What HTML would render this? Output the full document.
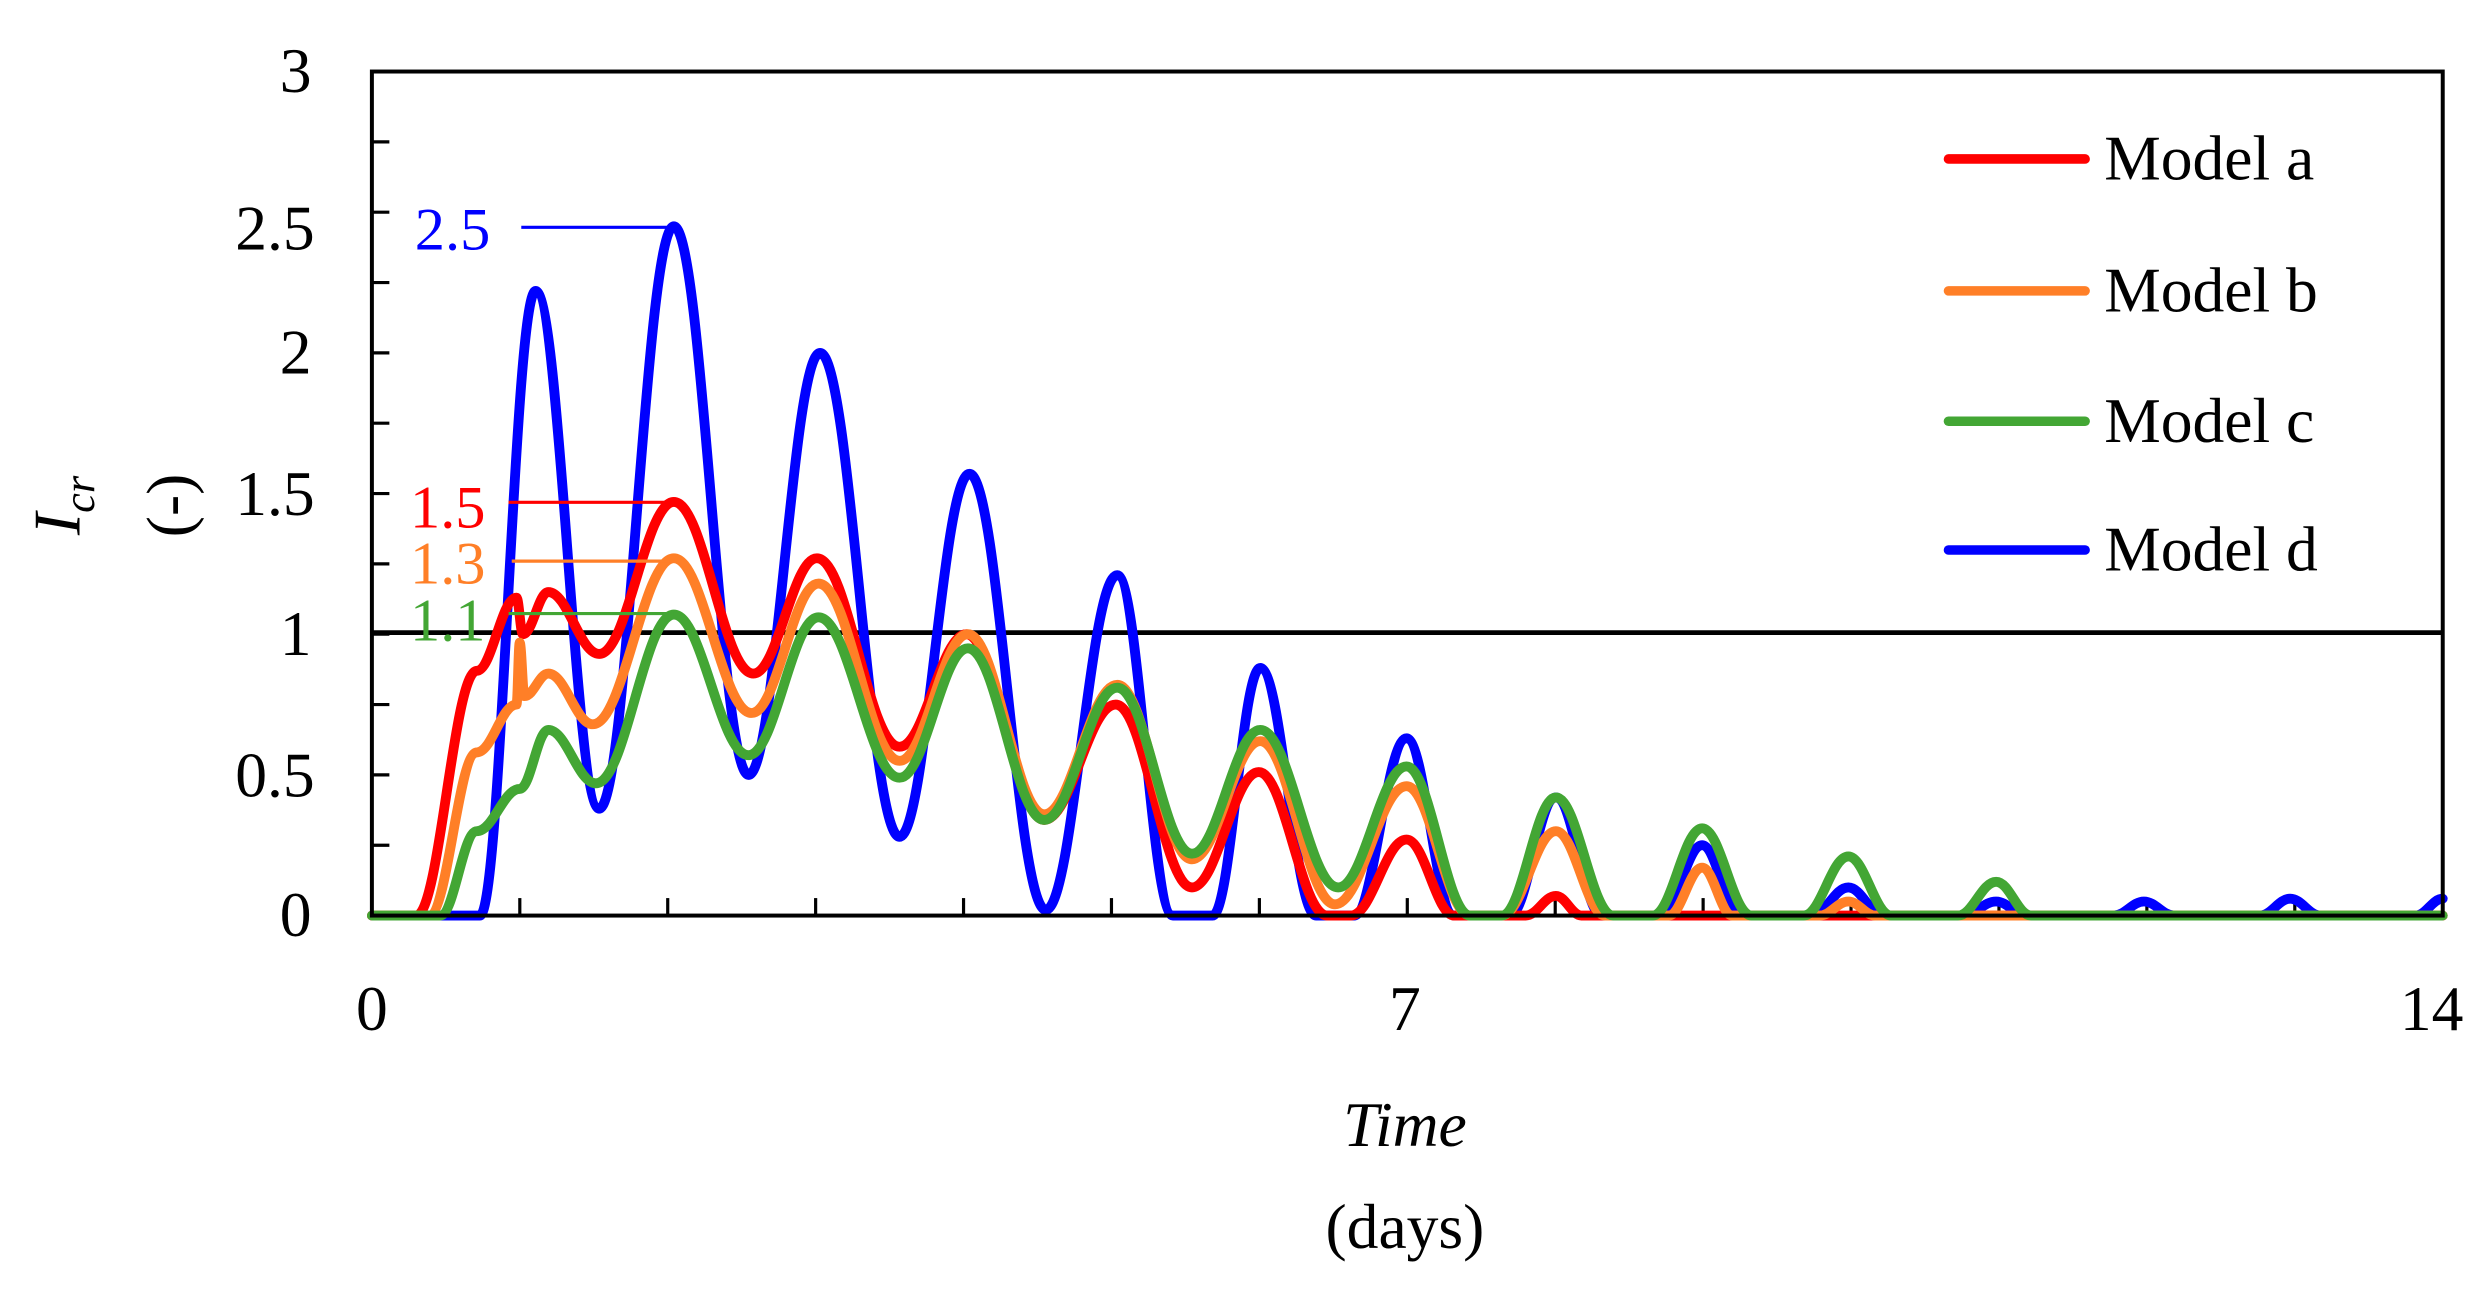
<!DOCTYPE html>
<html><head><meta charset="utf-8"><style>
html,body{margin:0;padding:0;background:#fff;}
svg{display:block;}
text{font-family:"Liberation Serif",serif;}
</style></head><body>
<svg id="s" width="2492" height="1305" viewBox="0 0 1568 821" preserveAspectRatio="none" xmlns="http://www.w3.org/2000/svg">
<rect x="0" y="0" width="1568" height="821" fill="#fff"/>
<g id="ticks" stroke="#000" stroke-width="2"></g>
<line x1="234" y1="398" x2="1537" y2="398" stroke="#000" stroke-width="3"/>
<g id="curves" fill="none" stroke-width="6.2" stroke-linejoin="round" stroke-linecap="round"></g>
<rect x="234" y="45" width="1303" height="531" fill="none" stroke="#000" stroke-width="2.5"/>
<line x1="328" y1="143" x2="424" y2="143" stroke="#0000ff" stroke-width="2"/>
<text x="261" y="157" font-size="38" fill="#0000ff">2.5</text>
<line x1="320" y1="316" x2="424" y2="316" stroke="#ff0000" stroke-width="2"/>
<text x="258" y="332" font-size="38" fill="#ff0000">1.5</text>
<line x1="322" y1="353" x2="424" y2="353" stroke="#ff7f27" stroke-width="2"/>
<text x="258" y="367" font-size="38" fill="#ff7f27">1.3</text>
<line x1="320" y1="386" x2="424" y2="386" stroke="#43a634" stroke-width="2"/>
<text x="258" y="403" font-size="38" fill="#43a634">1.1</text>
<g font-size="40" text-anchor="end" fill="#000">
<text x="196" y="58">3</text><text x="198" y="157">2.5</text><text x="196" y="235">2</text>
<text x="198" y="324">1.5</text><text x="196" y="412">1</text><text x="198" y="501">0.5</text><text x="196" y="589">0</text>
</g>
<g font-size="40" text-anchor="middle" fill="#000">
<text x="234" y="648">0</text><text x="884" y="648">7</text><text x="1530" y="648">14</text>
<text x="884" y="721" font-style="italic">Time</text>
<text x="884" y="785">(days)</text>
</g>
<text transform="translate(50,318) rotate(-90)" font-size="42" text-anchor="middle" font-style="italic">I<tspan font-size="28" dy="9">cr</tspan></text>
<text transform="translate(120,318) rotate(-90)" font-size="40" text-anchor="middle">(-)</text>
<g stroke-width="6" stroke-linecap="round">
<line x1="1226" y1="100" x2="1312" y2="100" stroke="#ff0000"/>
<line x1="1226" y1="183" x2="1312" y2="183" stroke="#ff7f27"/>
<line x1="1226" y1="265" x2="1312" y2="265" stroke="#43a634"/>
<line x1="1226" y1="346" x2="1312" y2="346" stroke="#0000ff"/>
</g>
<g font-size="40" fill="#000">
<text x="1324" y="113">Model a</text><text x="1324" y="196">Model b</text>
<text x="1324" y="278">Model c</text><text x="1324" y="359">Model d</text>
</g>
</svg>
<script>
var NS="http://www.w3.org/2000/svg";
function Y(v){return 576-v*177;}
var t=document.getElementById("ticks"),h="";
for(var i=1;i<12;i++){var y=576-i*44.25;h+='<line x1="234" y1="'+y+'" x2="245" y2="'+y+'"/>';}
for(var d=1;d<14;d++){var x=234+d*93.07;h+='<line x1="'+x+'" y1="576" x2="'+x+'" y2="565"/>';}
t.innerHTML=h;
function path(pts){var s="M"+pts[0][0]+","+Y(pts[0][1]);
for(var i=1;i<pts.length;i++){var a=pts[i-1],b=pts[i],dx=b[0]-a[0];
if(a[1]==b[1]){s+=" L"+b[0]+","+Y(b[1]);continue;}
var k=dx/2.6;s+=" C"+(a[0]+k)+","+Y(a[1])+" "+(b[0]-k)+","+Y(b[1])+" "+b[0]+","+Y(b[1]);}
return s;}
var D=[[234,0],[302,0],[337,2.22],[377,0.38],[424,2.45],[471,0.5],[516,2.0],[566,0.28],[610,1.57],[658,0.02],[703,1.21],[738,0],[763,0],[793,0.88],[828,0],[852,0],[885,0.63],[915,0],[950,0],[979,0.42],[1008,0],[1045,0],[1071,0.25],[1095,0],[1140,0],[1163,0.1],[1185,0],[1235,0],[1256,0.05],[1275,0],[1330,0],[1349,0.05],[1368,0],[1422,0],[1441,0.06],[1460,0],[1520,0],[1537,0.06]];
var A=[[234,0],[262,0],[300,0.87],[325,1.13],[329,1.0],[345,1.15],[377,0.93],[424,1.47],[474,0.86],[514,1.27],[566,0.6],[608,1.0],[657,0.34],[702,0.75],[750,0.1],[792,0.51],[835,0],[850,0],[885,0.27],[915,0],[960,0],[979,0.07],[995,0],[1537,0]];
var B=[[234,0],[270,0],[300,0.58],[325,0.75],[327,0.97],[330,0.78],[345,0.86],[373,0.68],[424,1.27],[473,0.72],[515,1.18],[566,0.55],[609,1.0],[657,0.36],[703,0.82],[750,0.2],[793,0.62],[840,0.04],[885,0.46],[925,0],[945,0],[979,0.3],[1010,0],[1050,0],[1071,0.17],[1090,0],[1145,0],[1163,0.05],[1180,0],[1537,0]];
var C=[[234,0],[277,0],[300,0.3],[327,0.45],[345,0.66],[375,0.47],[424,1.07],[471,0.57],[515,1.06],[566,0.49],[609,0.95],[657,0.34],[703,0.81],[750,0.22],[793,0.66],[842,0.1],[885,0.53],[925,0],[945,0],[979,0.42],[1015,0],[1040,0],[1071,0.31],[1102,0],[1135,0],[1163,0.21],[1190,0],[1232,0],[1256,0.12],[1278,0],[1537,0]];
var g=document.getElementById("curves");
[[D,"#0000ff"],[A,"#ff0000"],[B,"#ff7f27"],[C,"#43a634"]].forEach(function(p){
var e=document.createElementNS(NS,"path");e.setAttribute("d",path(p[0]));e.setAttribute("stroke",p[1]);g.appendChild(e);});
</script>
</body></html>
